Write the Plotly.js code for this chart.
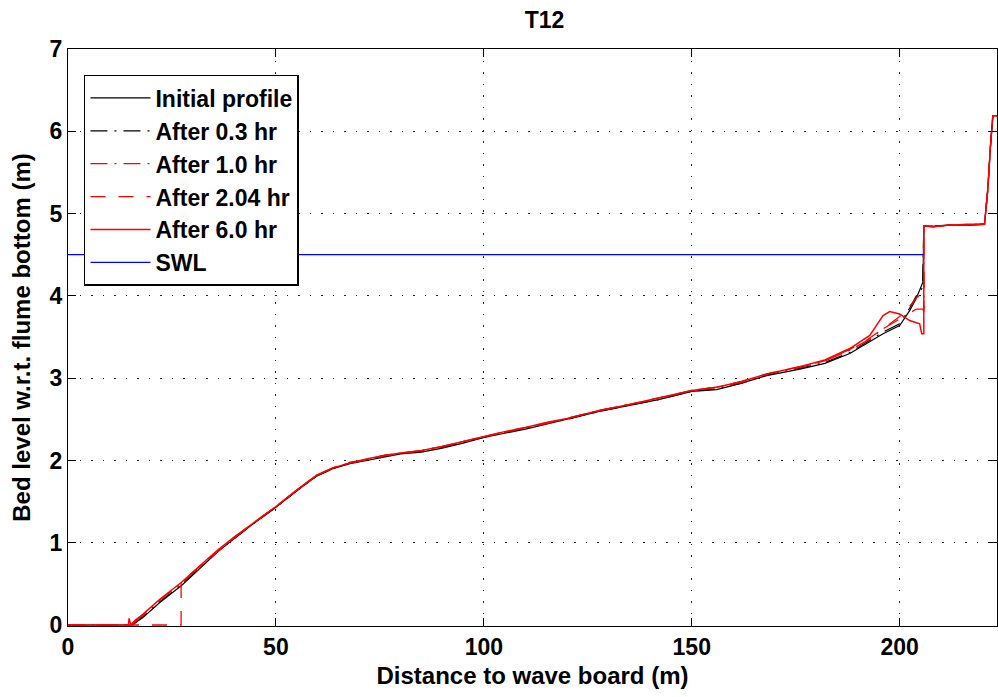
<!DOCTYPE html>
<html>
<head>
<meta charset="utf-8">
<script src="https://cdn.plot.ly/plotly-3.0.1.min.js"></script>
<style>html,body{margin:0;padding:0;background:#fff;}</style>
</head>
<body>
<div id="chart" style="width:998px;height:697px;"></div>
<script>
// Initial profile
const xInit = [0, 15.5, 18, 22, 27.3, 31.7, 36, 40, 44, 50, 55, 59.8, 63.7, 67.8, 72, 76, 80, 85, 90, 95, 100, 105, 110, 115, 120, 128, 135, 142, 150, 156, 162, 168, 176, 182, 188, 192, 196, 200, 202.4, 204, 205.6, 205.8, 208, 212, 216, 220.4, 221.2, 221.8, 222.4, 223.4];
const yInit = [0, 0, 0.09, 0.27, 0.48, 0.69, 0.89, 1.05, 1.21, 1.43, 1.63, 1.81, 1.9, 1.96, 2.0, 2.04, 2.08, 2.1, 2.15, 2.21, 2.28, 2.33, 2.38, 2.44, 2.5, 2.6, 2.67, 2.74, 2.84, 2.86, 2.94, 3.03, 3.11, 3.18, 3.3, 3.42, 3.54, 3.64, 3.82, 3.97, 4.17, 4.85, 4.84, 4.86, 4.86, 4.87, 5.3, 5.8, 6.19, 6.19];
// After 0.3 hr
const x03 = [0, 15.4, 18, 22, 27.3, 31.7, 36, 40, 44, 50, 55, 59.8, 63.7, 67.8, 72, 76, 80, 85, 90, 95, 100, 105, 110, 115, 120, 128, 135, 142, 150, 156, 162, 168, 176, 182, 188, 192, 196, 200, 202.4, 204, 205.5, 205.8, 208, 212, 216, 220.4, 221.2, 221.8, 222.4, 223.4];
const y03 = [0, 0, 0.1, 0.28, 0.49, 0.7, 0.9, 1.05, 1.21, 1.43, 1.63, 1.81, 1.9, 1.97, 2.01, 2.05, 2.09, 2.11, 2.16, 2.22, 2.28, 2.34, 2.39, 2.45, 2.5, 2.6, 2.67, 2.74, 2.84, 2.87, 2.94, 3.04, 3.12, 3.19, 3.31, 3.43, 3.56, 3.66, 3.85, 4.0, 4.1, 4.85, 4.85, 4.86, 4.86, 4.87, 5.3, 5.8, 6.19, 6.19];
// After 1.0 hr
const x10 = [0, 15.2, 18, 22, 27.3, 31.7, 36, 40, 44, 50, 55, 59.8, 63.7, 67.8, 72, 76, 80, 85, 90, 95, 100, 105, 110, 115, 120, 128, 135, 142, 150, 156, 162, 168, 176, 182, 188, 192, 196, 200, 202.5, 204, 205.5, 205.8, 205.8, 208, 212, 216, 220.4, 221.2, 221.8, 222.4, 223.4];
const y10 = [0, 0, 0.12, 0.3, 0.51, 0.71, 0.9, 1.06, 1.22, 1.44, 1.64, 1.82, 1.91, 1.97, 2.01, 2.06, 2.09, 2.12, 2.17, 2.23, 2.29, 2.34, 2.4, 2.45, 2.51, 2.61, 2.68, 2.75, 2.85, 2.89, 2.95, 3.05, 3.13, 3.21, 3.34, 3.45, 3.6, 3.72, 3.8, 3.84, 3.84, 3.84, 4.85, 4.84, 4.86, 4.87, 4.87, 5.3, 5.8, 6.19, 6.19];
// After 2.04 hr
const x204 = [0, 27.2, 27.2, 31.7, 36, 40, 44, 50, 55, 59.8, 63.7, 67.8, 72, 76, 80, 85, 90, 95, 100, 105, 110, 115, 120, 128, 135, 142, 150, 156, 162, 168, 176, 182, 188, 192, 196, 200, 202.5, 204.4, 205.3, 205.8, 205.8, 208, 212, 216, 220.4, 221.2, 221.8, 222.4, 223.4];
const y204 = [0, 0, 0.52, 0.71, 0.9, 1.06, 1.22, 1.44, 1.64, 1.82, 1.91, 1.98, 2.01, 2.06, 2.09, 2.12, 2.17, 2.23, 2.29, 2.35, 2.4, 2.45, 2.51, 2.61, 2.68, 2.76, 2.85, 2.89, 2.96, 3.05, 3.14, 3.21, 3.35, 3.46, 3.6, 3.75, 3.88, 4.0, 3.9, 3.8, 4.85, 4.85, 4.86, 4.86, 4.88, 5.3, 5.8, 6.19, 6.19];
// After 6.0 hr
const x60 = [0, 14.5, 14.7, 15.1, 16, 18, 22, 27.3, 31.7, 36, 40, 44, 50, 55, 59.8, 63.7, 67.8, 72, 76, 80, 85, 90, 95, 100, 105, 110, 115, 120, 128, 135, 142, 150, 156, 162, 168, 176, 182, 188, 192.8, 196, 197.6, 200, 202.4, 204.8, 205.3, 205.8, 205.8, 208, 212, 216, 220.4, 221.2, 221.8, 222.4, 223.4];
const y60 = [0, 0, 0.08, 0, 0.05, 0.13, 0.31, 0.52, 0.72, 0.91, 1.07, 1.22, 1.44, 1.64, 1.82, 1.91, 1.97, 2.02, 2.06, 2.09, 2.12, 2.17, 2.23, 2.29, 2.35, 2.4, 2.46, 2.51, 2.61, 2.68, 2.76, 2.85, 2.89, 2.96, 3.05, 3.14, 3.22, 3.36, 3.52, 3.76, 3.81, 3.78, 3.7, 3.66, 3.54, 3.54, 4.85, 4.84, 4.86, 4.86, 4.87, 5.3, 5.8, 6.19, 6.19];
// Still water level
const xSWL = [0, 205.8];
const ySWL = [4.5, 4.5];

const seriesNames = ['Initial profile', 'After 0.3 hr', 'After 1.0 hr', 'After 2.04 hr', 'After 6.0 hr', 'SWL'];

const FONT = 'Liberation Sans, Arial, sans-serif';
const traces = [
  {x: xInit, y: yInit, name: seriesNames[0], mode: 'lines', line: {color: '#000000', width: 1.2}},
  {x: x03, y: y03, name: seriesNames[1], mode: 'lines', line: {color: '#000000', width: 1.2, dash: '17px,7px,2px,7px'}},
  {x: x10, y: y10, name: seriesNames[2], mode: 'lines', line: {color: '#ff0000', width: 1.3, dash: '17px,7px,2px,7px'}},
  {x: x204, y: y204, name: seriesNames[3], mode: 'lines', line: {color: '#ff0000', width: 1.3, dash: '15px,13px'}},
  {x: x60, y: y60, name: seriesNames[4], mode: 'lines', line: {color: '#ff0000', width: 1.5}},
  {x: xSWL, y: ySWL, name: seriesNames[5], mode: 'lines', line: {color: '#0000ff', width: 1.2}}
];

const axisCommon = {
  showline: true, linecolor: '#000', linewidth: 1, mirror: 'ticks',
  ticks: 'inside', ticklen: 8, tickcolor: '#000', tickwidth: 1,
  showgrid: true, gridcolor: '#222', gridwidth: 1, griddash: '1.5px,10px',
  zeroline: false, layer: 'below traces',
  tickfont: {family: FONT, size: 23, color: '#000', weight: 'bold'}
};

const layout = {
  width: 998, height: 697,
  margin: {l: 68, r: 1, t: 49, b: 71},
  paper_bgcolor: '#fff', plot_bgcolor: '#fff',
  title: {text: 'T12', x: 0.513, xref: 'paper', y: 0.972, yanchor: 'middle',
    font: {family: FONT, size: 23, color: '#000', weight: 'bold'}},
  xaxis: Object.assign({}, axisCommon, {
    range: [0, 223.4], tickvals: [0, 50, 100, 150, 200], ticktext: ['0', '50', '100', '150', '200'],
    title: {text: 'Distance to wave board (m)', standoff: 8, font: {family: FONT, size: 24, color: '#000', weight: 'bold'}}
  }),
  yaxis: Object.assign({}, axisCommon, {
    range: [-0.012, 7], tickvals: [0, 1, 2, 3, 4, 5, 6, 7],
    title: {text: 'Bed level w.r.t. flume bottom (m)', standoff: 12, font: {family: FONT, size: 24, color: '#000', weight: 'bold'}}
  }),
  legend: {
    x: 0.0172, y: 0.955, xanchor: 'left', yanchor: 'top',
    bgcolor: '#fff', bordercolor: '#000', borderwidth: 1.5,
    font: {family: FONT, size: 23, color: '#000', weight: 'bold'},
    itemwidth: 60, tracegroupgap: 0
  },
  showlegend: true
};

Plotly.newPlot('chart', traces, layout, {displayModeBar: false, staticPlot: true});
</script>
</body>
</html>
